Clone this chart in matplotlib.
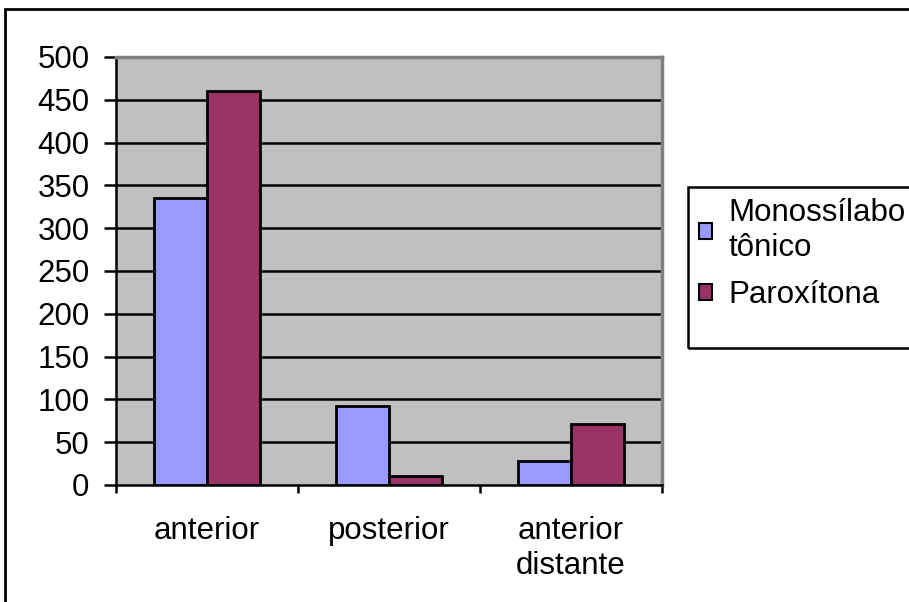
import matplotlib.pyplot as plt
import numpy as np
from matplotlib.patches import Patch, Rectangle

categorias = ["anterior", "posterior", "anterior\ndistante"]
monossilabo = [335, 92, 28]
paroxitona = [460, 10, 71]
series = ["Monossílabo\ntônico", "Paroxítona"]
yticks = np.arange(0, 501, 50)

azul = "#9999FF"
vinho = "#993366"
cinza = "#C0C0C0"

plt.rcParams["font.family"] = ["Liberation Sans", "DejaVu Sans"]
W, H = 909, 602
fs = 22.5
fig = plt.figure(figsize=(W / 100, H / 100), dpi=100)
ax = fig.add_axes([116 / W, 1 - 485 / H, 546 / W, 428 / H])
ax.set_facecolor(cinza)

x = np.arange(len(categorias))
w = 0.29
ax.bar(x - w / 2, monossilabo, w, color=azul, edgecolor="black", linewidth=2, zorder=3)
ax.bar(x + w / 2, paroxitona, w, color=vinho, edgecolor="black", linewidth=2, zorder=3)

ax.set_xlim(-0.5, len(categorias) - 0.5)
ax.set_ylim(0, 500)
ax.set_yticks(yticks)
ax.set_yticklabels([str(v) for v in yticks], fontsize=fs)
for v in yticks[1:-1]:
    ax.axhline(v, color="black", linewidth=1.8, zorder=1)

# category labels between boundary ticks
ax.set_xticks(np.arange(len(categorias) + 1) - 0.5)
ax.set_xticklabels([])
ax.set_xticks(x, minor=True)
ax.set_xticklabels(categorias, minor=True, fontsize=fs, linespacing=1.22)
ax.tick_params(axis="x", which="minor", length=0, pad=22)
ax.tick_params(axis="x", which="major", length=6, width=1.8, direction="out")
ax.tick_params(axis="y", length=9, width=1.8, direction="out", pad=10)

for s in ["top", "right"]:
    ax.spines[s].set_color("#808080")
    ax.spines[s].set_linewidth(2.5)
for s in ["left", "bottom"]:
    ax.spines[s].set_color("black")
    ax.spines[s].set_linewidth(1.8)

# outer chart frame
fig.patches.append(Rectangle((5 / W, -0.1), 1.2, 1.1 - 9 / H, transform=fig.transFigure,
                             fill=False, edgecolor="black", linewidth=2))

# legend box
fig.patches.append(Rectangle((688 / W, 1 - 348 / H), 0.5, 161 / H, transform=fig.transFigure,
                             fill=False, edgecolor="black", linewidth=1.8))
handles = [Patch(facecolor=azul, edgecolor="black", linewidth=1.5),
           Patch(facecolor=vinho, edgecolor="black", linewidth=1.5)]
fig.legend(handles, series, loc="upper left", bbox_to_anchor=(699 / W, 1 - 198 / H),
           frameon=False, fontsize=fs, handlelength=0.4, handleheight=0.4,
           handletextpad=0.55, labelspacing=0.55, borderaxespad=0, borderpad=0)

fig.savefig("out.png", dpi=100)
